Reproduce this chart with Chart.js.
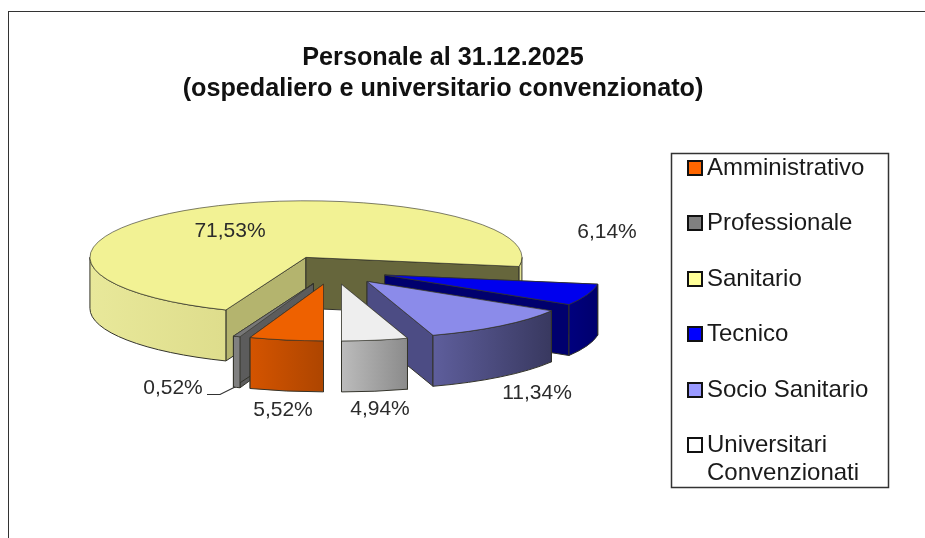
<!DOCTYPE html>
<html lang="it">
<head>
<meta charset="utf-8">
<title>Personale al 31.12.2025</title>
<script src="https://cdn.jsdelivr.net/npm/chart.js@4"></script>
<style>
    html, body { margin: 0; padding: 0; background: #fff; overflow: hidden; }
    #frame { position: absolute; left: 8px; top: 11px; width: 960px; height: 600px; border: 1px solid #333; }
    #chart { position: absolute; left: 0; top: 0; filter: blur(0.4px); }
</style>
</head>
<body>
<div id="frame"></div>
<canvas id="chart" width="925" height="538"></canvas>
<script>
// Dati
const categories = ['Amministrativo', 'Professionale', 'Sanitario', 'Tecnico', 'Socio Sanitario', 'Universitari Convenzionati'];
const values = [5.52, 0.52, 71.53, 6.14, 11.34, 4.94];
const chartTitle = ['Personale al 31.12.2025', '(ospedaliero e universitario convenzionato)'];

// Colori
const topColors = ['#ee6100', '#777777', '#f2f294', '#0000ee', '#8b8bea', '#eeeeee'];
const legendColors = ['#ff6600', '#808080', '#ffff99', '#0000ff', '#9999ff', '#ffffff'];
const wallLeft = ['#d45400', '#808080', '#e8e89a', '#00007e', '#5e5e9c', '#bcbcbc'];
const wallRight = ['#ad4500', '#808080', '#dedd8c', '#00006c', '#38385f', '#8a8a8a'];
const cutStart = ['#a04000', '#5c5c5c', '#b4b46e', '#00006c', '#33335c', '#999999'];
const cutEnd = ['#a04000', '#5c5c5c', '#66663c', '#00006e', '#4c4c84', '#999999'];

// Geometria della torta 3D
const pieShiftX = -110;
const tilt = 0.262;
const depth = 51;
const explodeX = 55;
const explodeY = 14.5;
const drawOrder = [2, 3, 4, 1, 0, 5];

// Etichette
const labelPos = [[283, 410], [173, 388], [230, 231], [607, 232], [537, 393], [380, 409]];
const legendRows = [168, 223, 279, 334, 390, 445];
const FONT = '"Liberation Sans", Arial, sans-serif';

const formatPercent = (v) => v.toFixed(2).replace('.', ',') + '%';

// Una faccia piana (taglio della fetta) dal centro al bordo
const drawCut = (ctx, ax, ay, px, py, color) => {
    ctx.beginPath();
    ctx.moveTo(ax, ay);
    ctx.lineTo(px, py);
    ctx.lineTo(px, py + depth);
    ctx.lineTo(ax, ay + depth);
    ctx.closePath();
    ctx.fillStyle = color;
    ctx.fill();
    ctx.stroke();
};

// La parete esterna, solo per la parte rivolta verso chi guarda
const drawWall = (ctx, arc, ax, ay, i) => {
    const r = arc.outerRadius;
    for (let k = -1; k <= 2; k++) {
        const a0 = Math.max(arc.startAngle, 2 * Math.PI * k);
        const a1 = Math.min(arc.endAngle, 2 * Math.PI * k + Math.PI);
        if (a1 <= a0) continue;
        const x0 = ax + r * Math.cos(a0);
        const x1 = ax + r * Math.cos(a1);
        const grad = ctx.createLinearGradient(Math.min(x0, x1), 0, Math.max(x0, x1) + 1, 0);
        grad.addColorStop(0, wallLeft[i]);
        grad.addColorStop(1, wallRight[i]);
        ctx.beginPath();
        ctx.ellipse(ax, ay, r, r * tilt, 0, a0, a1);
        ctx.ellipse(ax, ay + depth, r, r * tilt, 0, a1, a0, true);
        ctx.closePath();
        ctx.fillStyle = grad;
        ctx.fill();
        ctx.stroke();
    }
};

const pie3d = {
    id: 'pie3d',
    beforeDatasetsDraw(chart) {
        const ctx = chart.ctx;
        const arcs = chart.getDatasetMeta(0).data;
        ctx.save();
        ctx.lineWidth = 1;
        ctx.strokeStyle = '#33332a';
        drawOrder.forEach((i) => {
            const arc = arcs[i];
            const mid = (arc.startAngle + arc.endAngle) / 2;
            const r = arc.outerRadius;
            const ax = arc.x + pieShiftX + Math.cos(mid) * explodeX;
            const ay = arc.y + Math.sin(mid) * explodeY;
            const point = (a) => [ax + r * Math.cos(a), ay + r * tilt * Math.sin(a)];
            drawCut(ctx, ax, ay, ...point(arc.startAngle), cutStart[i]);
            drawCut(ctx, ax, ay, ...point(arc.endAngle), cutEnd[i]);
            drawWall(ctx, arc, ax, ay, i);
            // La faccia superiore la disegna Chart.js, schiacciata
            ctx.save();
            ctx.translate(ax, ay);
            ctx.scale(1, tilt);
            ctx.translate(-arc.x, -arc.y);
            arc.draw(ctx);
            ctx.restore();
        });
        ctx.restore();
        return false;
    },
    afterDraw(chart) {
        const ctx = chart.ctx;
        ctx.save();
        // Percentuali
        ctx.font = '21px ' + FONT;
        ctx.fillStyle = '#2b2b2b';
        ctx.textAlign = 'center';
        ctx.textBaseline = 'middle';
        values.forEach((v, i) => ctx.fillText(formatPercent(v), labelPos[i][0], labelPos[i][1]));
        // Linea guida dello 0,52%
        ctx.strokeStyle = '#333';
        ctx.lineWidth = 1.2;
        ctx.beginPath();
        ctx.moveTo(207, 394.5);
        ctx.lineTo(220, 394.5);
        ctx.lineTo(235, 387);
        ctx.stroke();
        // Legenda
        ctx.strokeStyle = '#333';
        ctx.lineWidth = 1.5;
        ctx.strokeRect(671.5, 153.5, 217, 334);
        ctx.textAlign = 'left';
        ctx.font = '24px ' + FONT;
        categories.forEach((name, i) => {
            const y = legendRows[i];
            ctx.fillStyle = legendColors[i];
            ctx.fillRect(688, y - 7, 14, 14);
            ctx.strokeStyle = '#111';
            ctx.lineWidth = 2;
            ctx.strokeRect(688, y - 7, 14, 14);
            ctx.fillStyle = '#1a1a1a';
            if (name.includes(' Convenzionati')) {
                ctx.fillText('Universitari', 707, y);
                ctx.fillText('Convenzionati', 707, y + 28);
            } else {
                ctx.fillText(name, 707, y);
            }
        });
        ctx.restore();
    }
};

new Chart(document.getElementById('chart'), {
    type: 'pie',
    data: {
        labels: categories,
        datasets: [{
            data: values,
            backgroundColor: topColors,
            borderColor: '#33332a',
            borderWidth: 1
        }]
    },
    options: {
        responsive: false,
        animation: false,
        rotation: 180,
        radius: 216,
        layout: { padding: { right: 39, bottom: 103 } },
        plugins: {
            legend: { display: false },
            tooltip: { enabled: false },
            title: {
                display: true,
                text: chartTitle,
                color: '#111',
                font: { family: FONT, size: 25.2, weight: 'bold', lineHeight: 1.23 },
                padding: { top: 43, bottom: 0 }
            }
        }
    },
    plugins: [pie3d]
});
</script>
</body>
</html>
